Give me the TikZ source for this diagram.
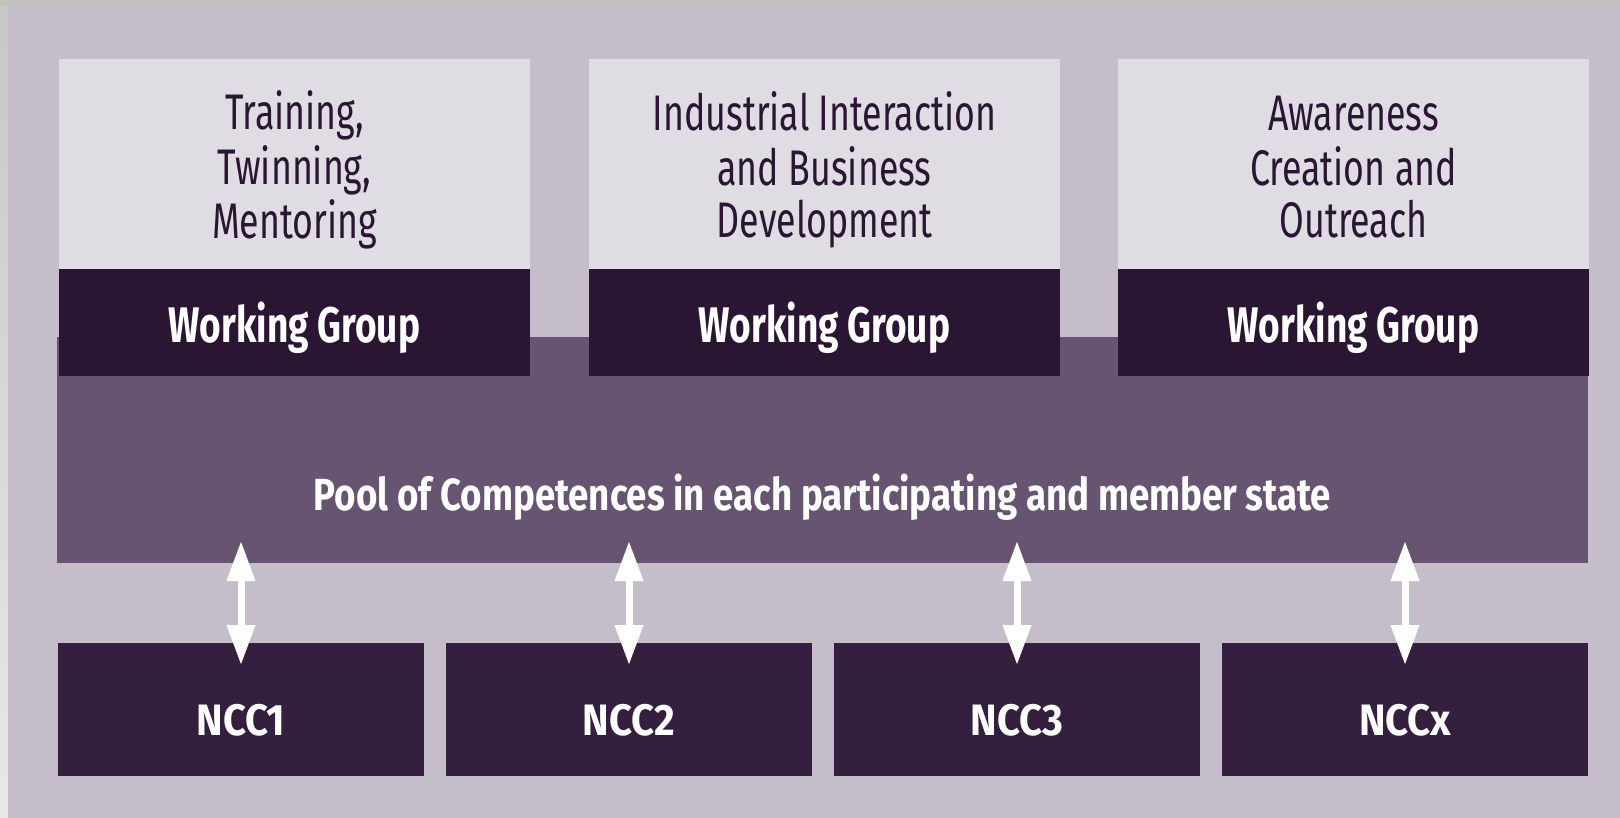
\documentclass[tikz,border=0pt]{standalone}
\usepackage{fontspec}
\setmainfont{Fira Sans}
\newfontfamily\topicfont[FakeStretch=0.715]{Fira Sans}
\newfontfamily\wgfont[FakeStretch=0.74]{Fira Sans}
\newfontfamily\poolfont[FakeStretch=0.815]{Fira Sans}
\newfontfamily\nccfont[FakeStretch=0.91]{Fira Sans}
\usetikzlibrary{positioning,arrows.meta}

\definecolor{bgplum}{RGB}{197,189,202}
\definecolor{lightplum}{RGB}{223,220,227}
\definecolor{darkplum}{RGB}{42,21,51}
\definecolor{poolplum}{RGB}{103,84,112}
\definecolor{nccplum}{RGB}{52,31,62}

\newcommand{\topiclines}[1]{\begin{tabular}{@{}c@{}}\rule{0pt}{28pt}#1\end{tabular}}

\begin{document}
\begin{tikzpicture}[node distance=29pt]
        \tikzset{
            topic/.style = {rectangle, fill=lightplum, text=darkplum, minimum width=235.5pt, minimum height=105pt, inner sep=0pt, outer sep=0pt, font=\topicfont\fontsize{25}{25.6}\selectfont},
            wgroup/.style = {rectangle, fill=darkplum, text=white, minimum width=235.5pt, minimum height=53.5pt, inner sep=0pt, outer sep=0pt, text height=19.5pt, text depth=0pt, font=\wgfont\fontsize{25}{26}\selectfont\bfseries},
            ncc/.style = {rectangle, fill=nccplum, text=white, minimum width=183pt, minimum height=66.5pt, inner sep=0pt, outer sep=0pt, text height=25.5pt, text depth=0pt, font=\nccfont\fontsize{22}{24}\selectfont\bfseries},
            dblarrow/.style = {white, line width=3.5pt, {Triangle[width=13.5pt,length=20pt]}-{Triangle[width=13.5pt,length=20pt]}}
        }
        \useasboundingbox (0,0) rectangle (810pt,-409pt);
        \fill[black!24] (0,0) rectangle (810pt,-3.5pt);
        \shade[top color=black!22, bottom color=black!9] (0,-3.5pt) rectangle (4pt,-409pt);
        \fill[bgplum] (4pt,-3.5pt) rectangle (810pt,-409pt);

        \node (pool) [rectangle, fill=poolplum, minimum width=765.5pt, minimum height=113pt, inner sep=0pt, outer sep=0pt, anchor=north west] at (28.5pt,-168.5pt) {};
        \node (pooltext) [anchor=base, text=white, font=\poolfont\fontsize{22.5}{24}\selectfont\bfseries] at ([yshift=26.5pt]pool.south) {Pool of Competences in each participating and member state};

        \node (topic1) [topic, anchor=north west] at (29.5pt,-29.5pt) {\topiclines{Training,\\Twinning,\\Mentoring}};
        \node (wg1) [wgroup, below=0pt of topic1] {Working Group};
        \node (topic2) [topic, right=29.5pt of topic1] {\topiclines{Industrial Interaction\\and Business\\Development}};
        \node (wg2) [wgroup, below=0pt of topic2] {Working Group};
        \node (topic3) [topic, right=29pt of topic2] {\topiclines{Awareness\\Creation and\\Outreach}};
        \node (wg3) [wgroup, below=0pt of topic3] {Working Group};

        \node (ncc1) [ncc, anchor=north west] at (29pt,-321.5pt) {NCC1};
        \node (ncc2) [ncc, right=11pt of ncc1] {NCC2};
        \node (ncc3) [ncc, right=11pt of ncc2] {NCC3};
        \node (nccx) [ncc, right=11pt of ncc3] {NCCx};

        \foreach \n in {ncc1,ncc2,ncc3,nccx}
            \draw [dblarrow] ([yshift=11pt]pool.south -| \n) -- ([yshift=-11pt]\n.north);

    \end{tikzpicture}
\end{document}
